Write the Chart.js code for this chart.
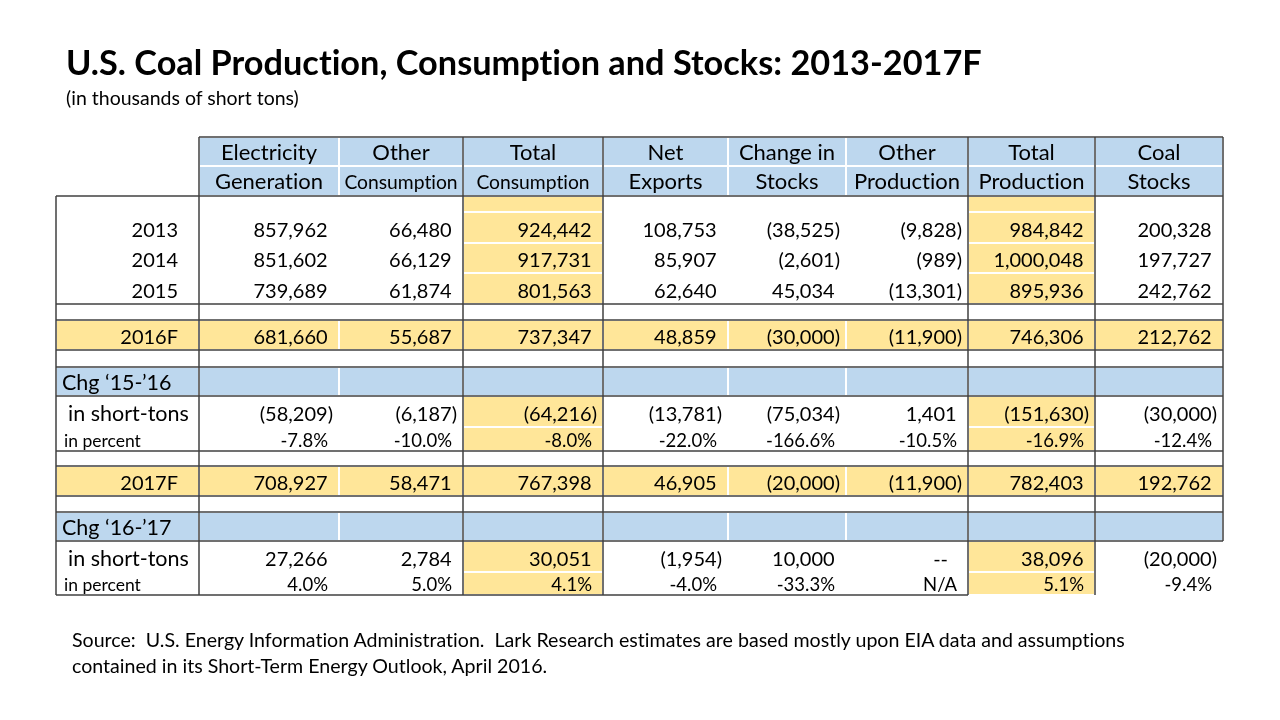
<!DOCTYPE html>
<html>
<head>
<meta charset="utf-8">
<script src="https://cdn.jsdelivr.net/npm/chart.js@4.4.1/dist/chart.umd.min.js"></script>
<style>
html, body { margin: 0; padding: 0; background: #fff; }
#wrap { position: relative; width: 1280px; height: 720px; overflow: hidden; font-family: Lato, sans-serif; color: #000; font-variant-ligatures: none; }
#table { position: absolute; left: 0; top: 0; }
#title { position: absolute; left: 66px; top: 45px; font-size: 34.3px; line-height: 34px; font-weight: bold; white-space: nowrap; }
#sub { position: absolute; left: 66px; top: 88px; font-size: 19.5px; line-height: 20px; white-space: nowrap; }
#source { position: absolute; left: 72px; top: 627px; font-size: 19.6px; line-height: 25.5px; white-space: pre; }
</style>
</head>
<body>
<div id="wrap">
  <canvas id="table" width="1280" height="720"></canvas>
  <div id="title">U.S. Coal Production, Consumption and Stocks: 2013-2017F</div>
  <div id="sub">(in thousands of short tons)</div>
  <div id="source">Source:  U.S. Energy Information Administration.  Lark Research estimates are based mostly upon EIA data and assumptions
contained in its Short-Term Energy Outlook, April 2016.</div>
</div>
<script>
// column headings (two lines each)
const headerTop = ['Electricity', 'Other', 'Total', 'Net', 'Change in', 'Other', 'Total', 'Coal'];
const headerBottom = ['Generation', 'Consumption', 'Consumption', 'Exports', 'Stocks', 'Production', 'Production', 'Stocks'];

// row labels: 2013, 2014, 2015, 2016F, chg tons, chg pct, 2017F, chg tons, chg pct
const rowLabels = ['2013', '2014', '2015', '2016F', 'in short-tons', 'in percent', '2017F', 'in short-tons', 'in percent'];
const sectionLabels = ['Chg \u201815-\u201916', 'Chg \u201816-\u201917'];

// values per column, same order as rowLabels (percent rows in %)
const elecGeneration   = [857962, 851602, 739689, 681660, -58209, -7.8, 708927, 27266, 4.0];
const otherConsumption = [66480, 66129, 61874, 55687, -6187, -10.0, 58471, 2784, 5.0];
const totalConsumption = [924442, 917731, 801563, 737347, -64216, -8.0, 767398, 30051, 4.1];
const netExports       = [108753, 85907, 62640, 48859, -13781, -22.0, 46905, -1954, -4.0];
const changeInStocks   = [-38525, -2601, 45034, -30000, -75034, -166.6, -20000, 10000, -33.3];
const otherProduction  = [-9828, -989, -13301, -11900, 1401, -10.5, -11900, null, null];
const totalProduction  = [984842, 1000048, 895936, 746306, -151630, -16.9, 782403, 38096, 5.1];
const coalStocks       = [200328, 197727, 242762, 212762, -30000, -12.4, 192762, -20000, -9.4];

const series = [elecGeneration, otherConsumption, totalConsumption, netExports,
                changeInStocks, otherProduction, totalProduction, coalStocks];

// layout of the grid
const colWidths = [143, 140, 124, 140, 125, 118, 122, 127, 128];
const rowKinds = ['h1', 'h2', 'top', 'yr', 'yr', 'yr', 'gap', 'fc', 'gap', 'chg', 'tons', 'pct',
                  'gap', 'fc', 'gap', 'chg', 'tons', 'pct'];
const rowHeights = [29, 30, 16, 31, 30, 31, 16, 30, 17, 29, 31, 24, 15, 30, 16, 29, 31, 23];
const totalCols = [3, 7];
const BLUE = '#BDD7EE';
const YELLOW = '#FFE699';
const LINE = '#404040';
const FONT = 'Lato, sans-serif';

function edges(sizes) {
    const out = [0];
    sizes.forEach(s => out.push(out[out.length - 1] + s));
    return out;
}

function fillFor(kind, c) {
    if (kind === 'h1' || kind === 'h2') return c === 0 ? null : BLUE;
    if (kind === 'chg') return BLUE;
    if (kind === 'fc') return YELLOW;
    if (kind === 'gap') return null;
    return totalCols.includes(c) ? YELLOW : null;
}

function fmtValue(v, kind) {
    if (kind === 'pct') return v === null ? 'N/A' : v.toFixed(1) + '%';
    if (v === null) return '--';
    const s = Math.abs(v).toLocaleString('en-US');
    return v < 0 ? '(' + s + ')' : s;
}

const tablePlugin = {
    id: 'coalTable',
    afterDraw(chart) {
        const { ctx, scales: { x, y } } = chart;
        const cx = edges(colWidths).map(v => x.getPixelForValue(v));
        const ry = edges(rowHeights).map(v => y.getPixelForValue(v));
        const nCols = colWidths.length;
        ctx.save();

        // cell fills
        rowKinds.forEach((kind, r) => {
            for (let c = 0; c < nCols; c++) {
                const f = fillFor(kind, c);
                if (!f) continue;
                ctx.fillStyle = f;
                ctx.fillRect(cx[c], ry[r], cx[c + 1] - cx[c], ry[r + 1] - ry[r]);
            }
        });
        // thin white separators inside coloured cells
        ctx.strokeStyle = '#fff';
        ctx.lineWidth = 1;
        rowKinds.forEach((kind, r) => {
            for (let c = 0; c < nCols; c++) {
                if (!fillFor(kind, c)) continue;
                ctx.strokeRect(cx[c] + 0.5, ry[r] + 0.5, cx[c + 1] - cx[c] - 1, ry[r + 1] - ry[r] - 1);
            }
        });

        // dark grid lines
        ctx.strokeStyle = LINE;
        ctx.lineWidth = 1.5;
        const last = rowKinds.length;
        const hLine = (r, c0, c1) => {
            ctx.beginPath(); ctx.moveTo(cx[c0], ry[r]); ctx.lineTo(cx[c1], ry[r]); ctx.stroke();
        };
        const vLine = (c, r0, r1) => {
            ctx.beginPath(); ctx.moveTo(cx[c], ry[r0]); ctx.lineTo(cx[c], ry[r1]); ctx.stroke();
        };
        hLine(0, 1, nCols);
        hLine(2, 0, nCols);
        [6, 7, 8, 9, 10, 12, 13, 14, 15, 16].forEach(r => hLine(r, 0, nCols));
        hLine(last, 0, 7);
        vLine(0, 2, last);
        [1, 3, 4, 7, 8].forEach(c => vLine(c, 0, last));
        vLine(nCols, 0, 16);

        // texts
        ctx.fillStyle = '#000';
        ctx.textBaseline = 'alphabetic';
        const big = '20px ' + FONT;
        const label = '21.5px ' + FONT;
        const pctFont = '18.5px ' + FONT;
        const pctLabel = '17.5px ' + FONT;
        const head = '22px ' + FONT;
        const headSmall = '19.3px ' + FONT;

        ctx.textAlign = 'center';
        for (let c = 1; c < nCols; c++) {
            const mid = (cx[c] + cx[c + 1]) / 2;
            ctx.font = head;
            ctx.fillText(headerTop[c - 1], mid, ry[1] - 6);
            ctx.font = (c === 2 || c === 3) ? headSmall : head;
            ctx.fillText(headerBottom[c - 1], mid, ry[2] - 7);
        }

        let di = 0, si = 0;
        rowKinds.forEach((kind, r) => {
            const base = ry[r + 1] - (kind === 'pct' ? 4 : 6);
            if (kind === 'chg') {
                ctx.font = label;
                ctx.textAlign = 'left';
                ctx.fillText(sectionLabels[si++], cx[0] + 6, base);
                return;
            }
            if (!['yr', 'fc', 'tons', 'pct'].includes(kind)) return;

            // row label
            if (kind === 'yr' || kind === 'fc') {
                ctx.font = big;
                ctx.textAlign = 'right';
                ctx.fillText(rowLabels[di], cx[1] - 21, base);
            } else {
                ctx.font = kind === 'pct' ? pctLabel : label;
                ctx.textAlign = 'left';
                ctx.fillText(rowLabels[di], cx[0] + (kind === 'pct' ? 8 : 12), base);
            }

            // values
            ctx.font = kind === 'pct' ? pctFont : big;
            ctx.textAlign = 'right';
            const paren = ctx.measureText(')').width;
            series.forEach((col, k) => {
                const v = col[di];
                const right = cx[k + 2];
                let xr;
                if (kind === 'pct') xr = right - 11;
                else if (v === null) xr = right - 20;
                else if (v < 0) xr = right - 6;
                else xr = right - 6 - paren;
                ctx.fillText(fmtValue(v, kind), xr, base);
            });
            di++;
        });
        ctx.restore();
    }
};

const tableW = colWidths.reduce((a, b) => a + b, 0);
const tableH = rowHeights.reduce((a, b) => a + b, 0);

function build() {
    window.chart = new Chart(document.getElementById('table'), {
        type: 'scatter',
        data: { datasets: [] },
        options: {
            responsive: false,
            animation: false,
            devicePixelRatio: 1,
            layout: { padding: { left: 56, right: 1280 - 56 - tableW, top: 137, bottom: 720 - 137 - tableH } },
            plugins: { legend: { display: false }, tooltip: { enabled: false } },
            scales: {
                x: { type: 'linear', display: false, min: 0, max: tableW },
                y: { type: 'linear', display: false, min: 0, max: tableH, reverse: true }
            }
        },
        plugins: [tablePlugin]
    });
}

if (document.fonts && document.fonts.load) {
    Promise.all([document.fonts.load('20px Lato'), document.fonts.load('bold 20px Lato')])
        .then(build, build);
} else {
    build();
}
</script>
</body>
</html>
